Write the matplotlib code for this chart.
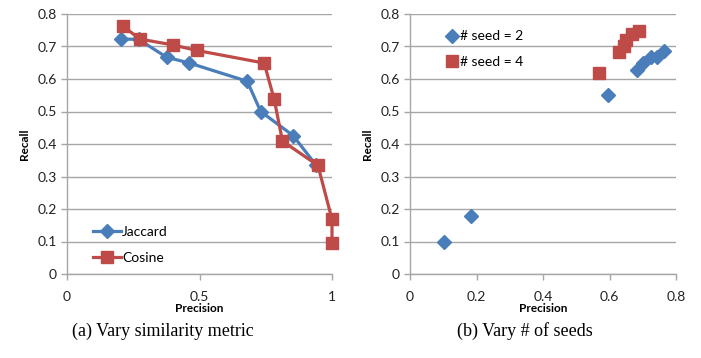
import numpy as np
import matplotlib
matplotlib.use("Agg")
import matplotlib.pyplot as plt

# (a) similarity metric
jac_p = [0.205, 0.27, 0.376, 0.462, 0.68, 0.731, 0.853, 0.94]
jac_r = [0.723, 0.722, 0.667, 0.649, 0.593, 0.500, 0.426, 0.335]
cos_p = [0.213, 0.274, 0.399, 0.489, 0.744, 0.782, 0.813, 0.947, 1.0, 1.0]
cos_r = [0.762, 0.723, 0.705, 0.688, 0.649, 0.537, 0.409, 0.334, 0.168, 0.094]

# (b) number of seeds
s2_p = [0.102, 0.182, 0.596, 0.682, 0.702, 0.724, 0.742, 0.764]
s2_r = [0.100, 0.177, 0.550, 0.628, 0.648, 0.669, 0.668, 0.687]
s4_p = [0.569, 0.630, 0.645, 0.650, 0.667, 0.689]
s4_r = [0.619, 0.683, 0.702, 0.720, 0.740, 0.748]

blue = "#4a7ebb"
red = "#be4b48"
grid_c = "#a6a6a6"

plt.rcParams["font.family"] = ["Lato", "DejaVu Sans"]

fig = plt.figure(figsize=(7.01, 3.58), dpi=100)
W, H = 701, 358
ax1 = fig.add_axes([67 / W, 1 - 274 / H, 265 / W, 260 / H])
ax2 = fig.add_axes([410 / W, 1 - 274 / H, 266 / W, 260 / H])


def style(ax, xmax, xticks, xlabels):
    ax.set_ylim(0, 0.8)
    ax.set_xlim(0, xmax)
    ax.set_yticks(np.arange(0, 0.81, 0.1))
    ax.set_yticklabels(["0"] + ["%.1f" % v for v in np.arange(0.1, 0.81, 0.1)])
    ax.set_xticks(xticks)
    ax.set_xticklabels(xlabels)
    ax.yaxis.grid(True, color=grid_c, linewidth=1.0)
    ax.set_axisbelow(True)
    for s in ["top", "right"]:
        ax.spines[s].set_visible(False)
    for s in ["left", "bottom"]:
        ax.spines[s].set_color(grid_c)
        ax.spines[s].set_linewidth(1.0)
    ax.tick_params(axis="both", colors=grid_c, labelcolor="#222222",
                   labelsize=10, length=4, width=1.0)
    ax.tick_params(axis="x", pad=8)
    ax.set_xlabel("Precision", fontsize=8.5, fontweight="bold", labelpad=0)
    ax.set_ylabel("Recall", fontsize=8.5, fontweight="bold", labelpad=5)


style(ax1, 1.0, [0, 0.5, 1.0], ["0", "0.5", "1"])
style(ax2, 0.8, [0, 0.2, 0.4, 0.6, 0.8], ["0", "0.2", "0.4", "0.6", "0.8"])

ax1.plot(jac_p, jac_r, color=blue, lw=2.3, marker="D", ms=7,
         label="Jaccard", clip_on=False)
ax1.plot(cos_p, cos_r, color=red, lw=2.3, marker="s", ms=8,
         label="Cosine", clip_on=False)
ax1.legend(loc="lower left", bbox_to_anchor=(0.05, -0.01), frameon=False,
           fontsize=10, handlelength=2.0, handletextpad=0.1, labelspacing=1.0)

ax2.plot(s2_p, s2_r, ls="none", color=blue, marker="D", ms=7.5,
         label="# seed = 2")
ax2.plot(s4_p, s4_r, ls="none", color=red, marker="s", ms=9,
         label="# seed = 4")
ax2.legend(loc="upper left", bbox_to_anchor=(0.09, 0.985), frameon=False,
           fontsize=10, handlelength=0.8, handletextpad=0.2, labelspacing=1.0)

fig.text(163 / W, 1 - 331 / H, "(a) Vary similarity metric", ha="center",
         va="center", fontsize=13, family="Liberation Serif")
fig.text(525 / W, 1 - 331 / H, "(b) Vary # of seeds", ha="center",
         va="center", fontsize=13, family="Liberation Serif")

fig.savefig("out.png", dpi=100)
